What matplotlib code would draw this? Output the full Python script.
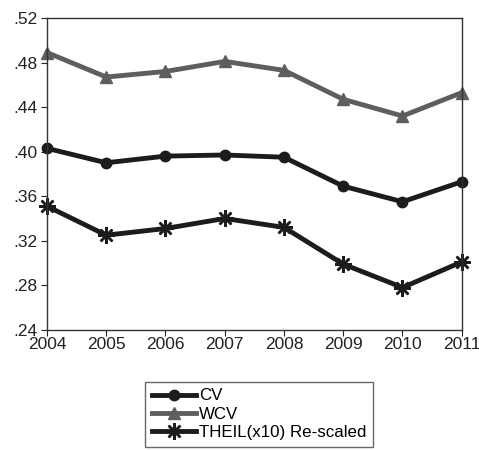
import matplotlib
matplotlib.use("Agg")
import matplotlib.pyplot as plt
from matplotlib.ticker import FuncFormatter

years = [2004, 2005, 2006, 2007, 2008, 2009, 2010, 2011]
cv = [0.403, 0.390, 0.396, 0.397, 0.395, 0.369, 0.355, 0.373]
wcv = [0.489, 0.467, 0.472, 0.481, 0.473, 0.447, 0.432, 0.453]
theil = [0.351, 0.325, 0.331, 0.340, 0.332, 0.299, 0.278, 0.301]
yticks = [0.24, 0.28, 0.32, 0.36, 0.40, 0.44, 0.48, 0.52]

plt.rcParams['font.family'] = ['Liberation Sans', 'DejaVu Sans']

fig = plt.figure(figsize=(4.79, 4.5), dpi=100)
ax = fig.add_axes([0.098, 0.267, 0.866, 0.693])

dark = '#1c1c1c'
gray = '#5e5e5e'
ax.plot(years, cv, color=dark, lw=3.5, marker='o', ms=7.5, label='CV', clip_on=False)
ax.plot(years, wcv, color=gray, lw=3.5, marker='^', ms=9, label='WCV', clip_on=False)
ax.plot(years, theil, color=dark, lw=3.5, marker=(8, 2, 0), ms=12, mew=1.8,
        label='THEIL(x10) Re-scaled', clip_on=False)

ax.set_xlim(2004, 2011)
ax.set_ylim(0.24, 0.52)
ax.set_xticks(years)
ax.set_yticks(yticks)
ax.yaxis.set_major_formatter(FuncFormatter(lambda v, p: ('%.2f' % v)[1:]))
ax.tick_params(direction='out', length=4, labelsize=12.5, colors='#222222', pad=3)
ax.tick_params(axis='x', pad=1)
for s in ax.spines.values():
    s.set_color('#333333')
    s.set_linewidth(1.0)

leg = fig.legend(loc='lower left', bbox_to_anchor=(145/479, 3/450), ncol=1,
                 fontsize=12.2, frameon=True, fancybox=False, edgecolor='#444444',
                 handlelength=2.6, handletextpad=0.2, labelspacing=0.2,
                 borderpad=0.4, borderaxespad=0)
leg.get_frame().set_linewidth(1.0)

fig.savefig('out.png', dpi=100)
